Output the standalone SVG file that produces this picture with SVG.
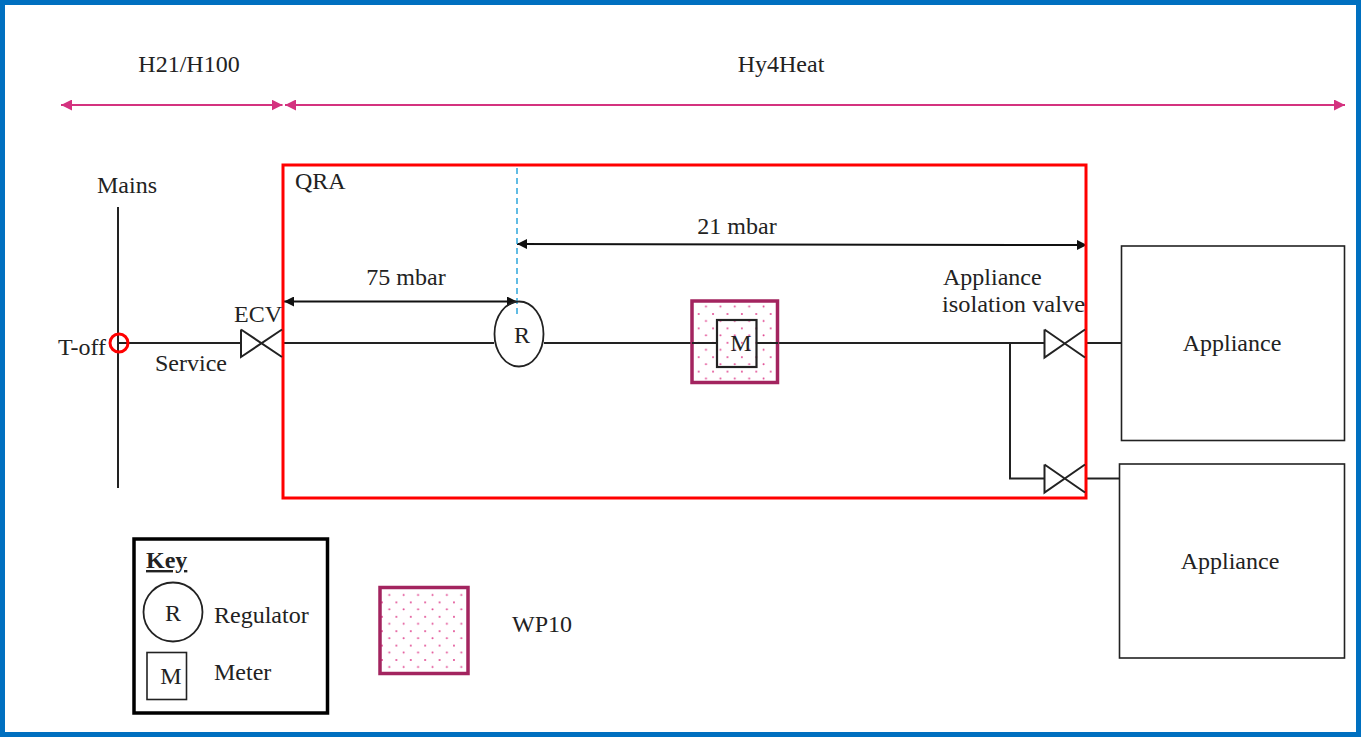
<svg xmlns="http://www.w3.org/2000/svg" width="1361" height="737" viewBox="0 0 1361 737">
<style>
text{font-family:"Liberation Serif","Times New Roman",serif;font-size:24px;fill:#222}
.l{fill:none;stroke:#222;stroke-width:2}
.t{fill:none;stroke:#222;stroke-width:1.6}
.w{fill:url(#d1);stroke:#a3245f;stroke-width:3.5}
.a{stroke:#111;stroke-width:2;fill:none;marker-start:url(#ka);marker-end:url(#ka)}
.p{stroke:#d4327f;stroke-width:2;fill:none;marker-start:url(#pa);marker-end:url(#pa)}
</style>
<defs>
<marker id="ka" viewBox="0 0 10 10" refX="10" refY="5" markerWidth="11" markerHeight="10" markerUnits="userSpaceOnUse" orient="auto-start-reverse"><path d="M0 0L10 5L0 10Z" fill="#111"/></marker>
<marker id="pa" viewBox="0 0 10 10" refX="10" refY="5" markerWidth="11" markerHeight="11" markerUnits="userSpaceOnUse" orient="auto-start-reverse"><path d="M0 0L10 5L0 10Z" fill="#d4327f"/></marker>
<pattern id="d1" patternUnits="userSpaceOnUse" width="14.4" height="14.4" x="382" y="588"><circle cx="7.3" cy="7" r="1" fill="#e0458f"/><circle cx="14.4" cy="14.4" r="1" fill="#e0458f"/><circle cx="0" cy="14.4" r="1" fill="#e0458f"/><circle cx="14.4" cy="0" r="1" fill="#e0458f"/><circle cx="0" cy="0" r="1" fill="#e0458f"/></pattern>
<pattern id="d2" patternUnits="userSpaceOnUse" width="14.4" height="14.4" x="698.7" y="299.6"><circle cx="7.3" cy="7" r="1" fill="#e0458f"/><circle cx="14.4" cy="14.4" r="1" fill="#e0458f"/><circle cx="0" cy="14.4" r="1" fill="#e0458f"/><circle cx="14.4" cy="0" r="1" fill="#e0458f"/><circle cx="0" cy="0" r="1" fill="#e0458f"/></pattern>
</defs>
<rect width="1361" height="737" fill="#fff"/>
<rect id="frame" x="2.5" y="2.5" width="1356" height="732" fill="none" stroke="#0070c0" stroke-width="5"/>
<g id="connectors">
<path class="p" d="M61 105H282.500"/>
<path class="p" d="M285 105H1345"/>
<path class="l" d="M118 207V488"/>
<path class="l" d="M118 343H240"/>
<path class="l" d="M284 343H494"/>
<path class="l" d="M544 343H692"/>
<path class="l" d="M778 343H1044"/>
<path class="l" d="M1010 343V478.500H1044"/>
<path class="l" d="M1087 343H1121"/>
<path class="l" d="M1087 478.500H1119"/>
<path class="a" d="M284 301.500H517"/>
<path class="a" d="M517 244L1087 245"/>
<path d="M517 168V316" fill="none" stroke="#2ea7dc" stroke-width="1.500" stroke-dasharray="6 4"/>
</g>
<g id="qra"><rect x="283" y="165" width="803" height="333" fill="none" stroke="#f00" stroke-width="3"/><text x="295" y="189">QRA</text></g>
<g id="labels">
<text x="189" y="72" text-anchor="middle">H21/H100</text>
<text x="781" y="72" text-anchor="middle">Hy4Heat</text>
<text x="127" y="193" text-anchor="middle">Mains</text>
<text x="58" y="355">T-off</text>
<text x="155" y="371">Service</text>
<text x="234" y="322">ECV</text>
<text x="406" y="285" text-anchor="middle">75 mbar</text>
<text x="737" y="234" text-anchor="middle">21 mbar</text>
<text x="943" y="285">Appliance</text>
<text x="942" y="312" textLength="143" lengthAdjust="spacingAndGlyphs">isolation valve</text>
</g>
<g id="t-off"><circle cx="119" cy="343" r="9" fill="none" stroke="#f00" stroke-width="3"/></g>
<g id="ecv"><path class="l" d="M241 329.500V357L282 329.500M241 329.500L282 357"/></g>
<g id="regulator"><ellipse cx="519" cy="334" rx="24.500" ry="32.500" fill="none" stroke="#222" stroke-width="1.800"/><text x="522" y="343" text-anchor="middle">R</text></g>
<g id="meter"><rect x="692" y="301" width="85.500" height="81.500" class="w" style="fill:url(#d2)"/><path class="l" d="M692 343H717M757 343H778"/><rect x="717" y="320" width="39.500" height="47" fill="none" stroke="#222" stroke-width="2.200"/><text x="741" y="351" text-anchor="middle">M</text></g>
<g id="valve1"><path class="l" d="M1044.500 329.500V357.500L1085 329.500M1044.500 329.500L1085 357.500"/></g>
<g id="valve2"><path class="l" d="M1044.500 464.500V492.500L1085 464.500M1044.500 464.500L1085 492.500"/></g>
<g id="appliance1"><rect x="1121.500" y="246" width="223" height="194.500" class="t"/><text x="1232" y="351" text-anchor="middle">Appliance</text></g>
<g id="appliance2"><rect x="1119.500" y="464" width="225" height="194" class="t"/><text x="1230" y="569" text-anchor="middle">Appliance</text></g>
<g id="key">
<rect x="134" y="539" width="193.500" height="174" fill="none" stroke="#000" stroke-width="3.500"/>
<text x="146" y="568" font-weight="bold" text-decoration="underline">Key</text>
<circle cx="173" cy="612" r="29.500" fill="none" stroke="#222" stroke-width="1.800"/>
<text x="173" y="621" text-anchor="middle">R</text>
<text x="214" y="623">Regulator</text>
<rect x="147" y="652.500" width="39.500" height="47" class="t"/>
<text x="171" y="684" text-anchor="middle">M</text>
<text x="214" y="680">Meter</text>
</g>
<g id="wp10"><rect x="380" y="587.500" width="88" height="86" class="w"/><text x="512" y="632">WP10</text></g>
</svg>
